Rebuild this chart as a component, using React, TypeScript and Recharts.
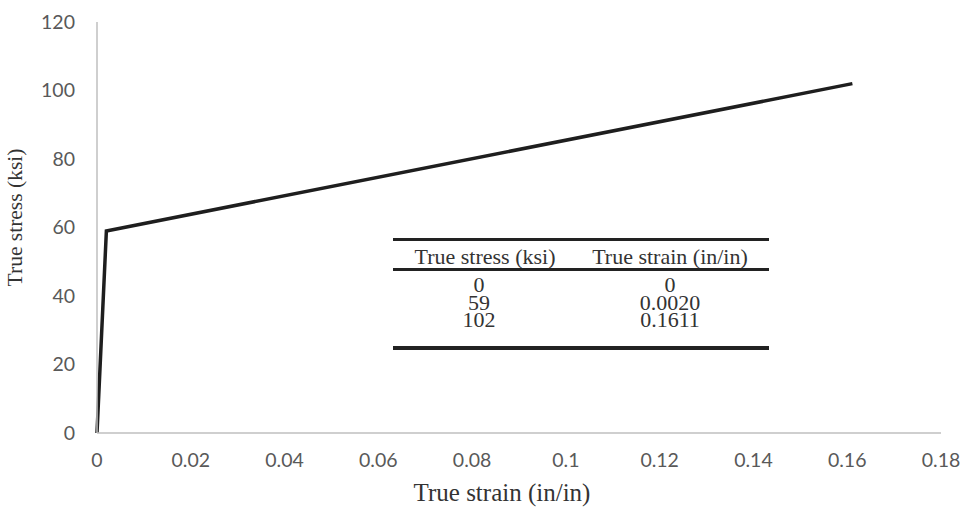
import React from 'react';
import { LineChart, Line, XAxis, YAxis } from 'recharts';

// stress-strain points (strain in/in, stress ksi)
const strain = [0, 0.002, 0.1611];
const stress = [0, 59, 102];

const xTicks = [0, 0.02, 0.04, 0.06, 0.08, 0.1, 0.12, 0.14, 0.16, 0.18];
const yTicks = [0, 20, 40, 60, 80, 100, 120];

const tableHeader = ['True stress (ksi)', 'True strain (in/in)'];
const tableStress = ['0', '59', '102'];
const tableStrain = ['0', '0.0020', '0.1611'];

const data = strain.map((s, i) => ({ strain: s, stress: stress[i] }));

const tickStyle = { fill: '#595959', fontSize: 19.5, fontFamily: 'Lato, "Open Sans", sans-serif' };
const serif = '"Liberation Serif", "Times New Roman", serif';

function DataTable() {
  const rule = (top: number, h: number) => (
    <div style={{ position: 'absolute', left: 393, width: 376, top, height: h, background: '#222' }} />
  );
  const cell = (text: string, cx: number, cy: number, key: string) => (
    <div
      key={key}
      style={{
        position: 'absolute',
        left: cx - 100,
        width: 200,
        top: cy - 9,
        height: 18,
        lineHeight: '18px',
        textAlign: 'center',
        fontFamily: serif,
        fontSize: 22,
        color: '#333',
      }}
    >
      {text}
    </div>
  );
  const rowY = [285, 303, 320];
  return (
    <>
      {rule(238, 3)}
      {cell(tableHeader[0], 485, 257, 'h0')}
      {cell(tableHeader[1], 670, 257, 'h1')}
      {rule(268, 3)}
      {tableStress.map((t, i) => cell(t, 479, rowY[i], 's' + i))}
      {tableStrain.map((t, i) => cell(t, 670, rowY[i], 'e' + i))}
      {rule(346, 4)}
    </>
  );
}

export default function App() {
  return (
    <div style={{ position: 'absolute', left: 0, top: 0, width: 965, height: 508, background: '#fff' }}>
      <LineChart width={965} height={508} data={data} margin={{ top: 22, right: 24, left: 0, bottom: 0 }}>
        <XAxis
          dataKey="strain"
          type="number"
          domain={[0, 0.18]}
          ticks={xTicks}
          tickLine={false}
          tickMargin={14}
          tick={tickStyle}
          axisLine={{ stroke: '#bfbfbf', strokeWidth: 1.5 }}
          height={75}
          label={{
            value: 'True strain (in/in)',
            position: 'insideBottom',
            offset: 7,
            dx: -17,
            style: { fill: '#333', fontSize: 25, fontFamily: serif },
          }}
        />
        <YAxis
          type="number"
          domain={[0, 120]}
          ticks={yTicks}
          tickLine={false}
          tickMargin={16}
          tick={tickStyle}
          axisLine={{ stroke: '#bfbfbf', strokeWidth: 1.5 }}
          width={97}
          label={{
            value: 'True stress (ksi)',
            angle: -90,
            position: 'insideLeft',
            offset: 14,
            dy: -10,
            style: { fill: '#333', fontSize: 21.5, fontFamily: serif, textAnchor: 'middle' },
          }}
        />
        <Line
          type="linear"
          dataKey="stress"
          stroke="#1e1e1e"
          strokeWidth={3.5}
          dot={false}
          isAnimationActive={false}
        />
      </LineChart>
      <DataTable />
    </div>
  );
}
